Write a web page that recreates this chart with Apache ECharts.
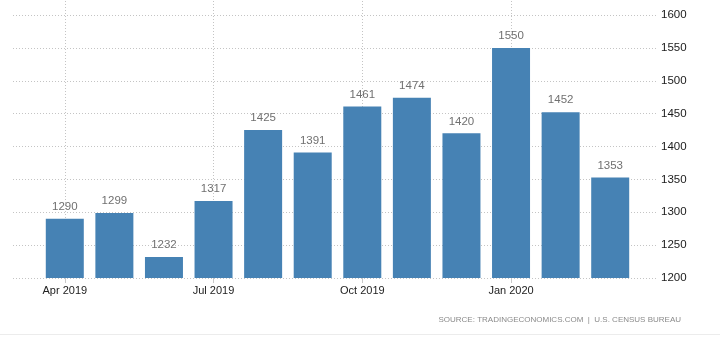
<!DOCTYPE html>
<html>
<head>
<meta charset="utf-8">
<script src="https://cdn.jsdelivr.net/npm/echarts@6/dist/echarts.min.js"></script>
<style>
  html, body { margin: 0; padding: 0; background: #fff; }
  #chart { width: 720px; height: 341px; }
</style>
</head>
<body>
<div id="chart"></div>
<script>
// Monthly housing starts (thousands of units, SAAR)
const months = ['Apr 2019', 'May 2019', 'Jun 2019', 'Jul 2019', 'Aug 2019', 'Sep 2019',
                'Oct 2019', 'Nov 2019', 'Dec 2019', 'Jan 2020', 'Feb 2020', 'Mar 2020'];
const starts = [1290, 1299, 1232, 1317, 1425, 1391, 1461, 1474, 1420, 1550, 1452, 1353];
const markedMonths = ['Apr 2019', 'Jul 2019', 'Oct 2019', 'Jan 2020'];
const yMin = 1200, yMax = 1600, yStep = 50;
const sourceText = 'SOURCE: TRADINGECONOMICS.COM  |  U.S. CENSUS BUREAU';

const FONT = '"Liberation Sans", Arial, sans-serif';
const chart = echarts.init(document.getElementById('chart'), null, { renderer: 'canvas' });

chart.setOption({
  animation: false,
  backgroundColor: '#ffffff',
  grid: [
    // bar area
    { left: 40, right: 85, top: 0, bottom: 63 },
    // value scale with wide horizontal guides
    { left: 13, right: 63, top: 15, bottom: 63 }
  ],
  xAxis: [
    {
      type: 'category', gridIndex: 0, data: months,
      axisLine: { show: false },
      axisTick: { show: true, interval: 2, alignWithLabel: true, length: 5,
                  lineStyle: { color: '#c8c8c8', width: 1 } },
      axisLabel: { interval: 2, margin: 7, color: '#222', fontSize: 11, fontFamily: FONT },
      splitLine: { show: false }
    },
    { type: 'value', gridIndex: 1, show: false, min: 0, max: 1 }
  ],
  yAxis: [
    {
      type: 'value', gridIndex: 0, show: false,
      min: yMin, max: yMin + (yMax - yMin) * 278 / 263
    },
    {
      type: 'value', gridIndex: 1, position: 'right',
      min: yMin, max: yMax, interval: yStep,
      axisLine: { show: false }, axisTick: { show: false },
      axisLabel: { margin: 4, color: '#1a1a1a', fontSize: 11.5, fontFamily: FONT,
                   formatter: v => String(v) },
      splitLine: { show: true, lineStyle: { color: '#c4c4c4', type: [1, 2], width: 1 } }
    }
  ],
  series: [
    {
      type: 'bar', xAxisIndex: 0, yAxisIndex: 0, data: starts,
      barWidth: 38,
      itemStyle: { color: '#4682b4' },
      label: { show: true, position: 'top', distance: 6, color: '#707070',
               fontSize: 11.5, fontFamily: FONT },
      markLine: {
        silent: true, symbol: 'none', label: { show: false },
        lineStyle: { color: '#c4c4c4', type: [1, 2], width: 1 },
        z: 0,
        data: markedMonths.map(m => ({ xAxis: m }))
      },
      z: 3
    }
  ],
  graphic: [
    {
      type: 'text', right: 39, top: 316, z: 10,
      style: { text: sourceText, fill: '#8a8a8a', fontSize: 8, fontFamily: FONT }
    },
    {
      type: 'rect', left: 0, top: 334, z: 10,
      shape: { width: 720, height: 1 },
      style: { fill: '#ececec' }
    }
  ]
});
</script>
</body>
</html>
